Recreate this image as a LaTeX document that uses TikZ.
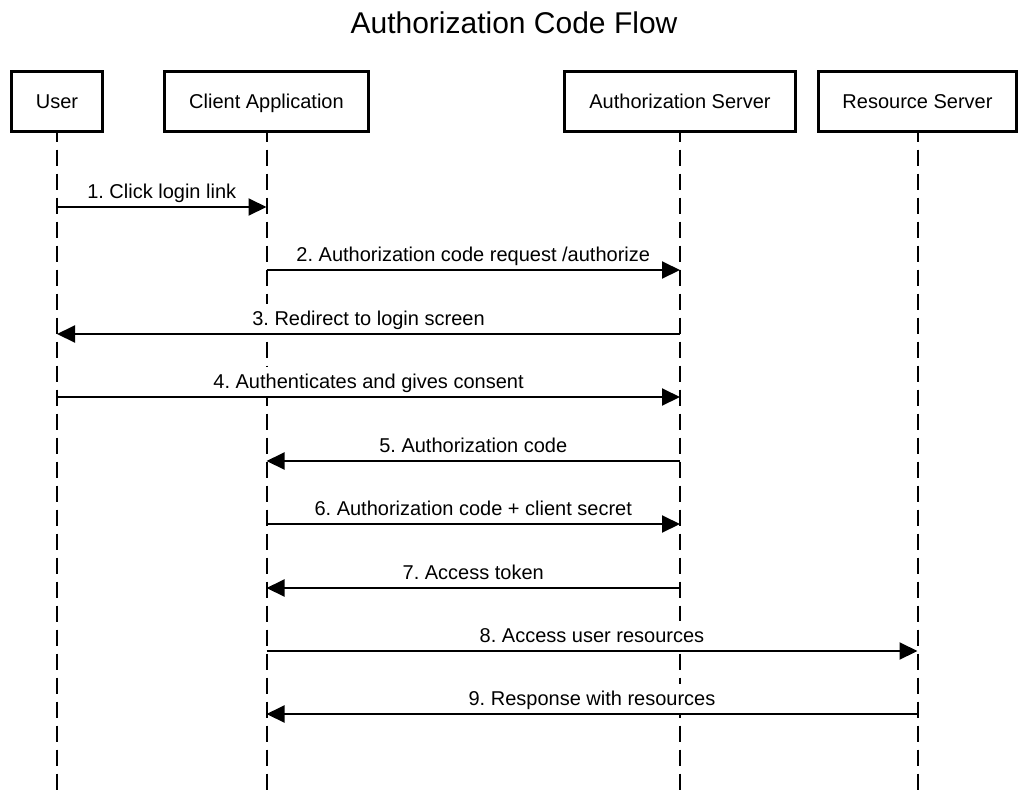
\documentclass[tikz,border=0pt]{standalone}
\usepackage{fontspec}
\setmainfont{Liberation Sans}
\usetikzlibrary{arrows.meta}
\frenchspacing
\begin{document}
\begin{tikzpicture}[x=1pt,y=-1pt,
  actor/.style={draw=black, line width=3pt, fill=white, minimum height=60pt,
    inner sep=0pt, text height=14.3pt, text depth=0pt, font=\fontsize{20}{24}\selectfont},
  lifeline/.style={line width=2pt, dash pattern=on 16pt off 8pt},
  msg/.style={line width=2pt, -{Triangle[length=18pt,width=17pt]}},
  lab/.style={anchor=base, yshift=9pt, inner ysep=0pt, inner xsep=2pt, fill=white,
    text height=21pt, text depth=8pt, font=\fontsize{20}{24}\selectfont},
  titlestyle/.style={anchor=base, inner sep=0pt, font=\fontsize{30}{36}\selectfont}]
\useasboundingbox[fill=white] (0,0) rectangle (1028,793);

\node[titlestyle] (title) at (514,33) {Authorization Code Flow};

% lifeline end points
\coordinate (userEnd) at (57,793);
\coordinate (clientEnd) at (266.5,793);
\coordinate (authEnd) at (680,793);
\coordinate (resEnd) at (917.5,793);

% lifelines (drawn first, boxes cover their tops)
\draw[lifeline] (57,101.5) -- (userEnd);
\draw[lifeline] (266.5,101.5) -- (clientEnd);
\draw[lifeline] (680,101.5) -- (authEnd);
\draw[lifeline] (917.5,101.5) -- (resEnd);

% actors
\node[actor, minimum width=91pt] (user) at (57,101.5) {User};
\node[actor, minimum width=204pt] (client) at (266.5,101.5) {Client Application};
\node[actor, minimum width=231pt] (auth) at (680,101.5) {Authorization Server};
\node[actor, minimum width=198pt] (res) at (917.5,101.5) {Resource Server};

% message anchor points on lifelines
\coordinate (u1) at (57,207);   \coordinate (c1) at (266.5,207);
\coordinate (c2) at (266.5,270); \coordinate (a2) at (680,270);
\coordinate (a3) at (680,334);  \coordinate (u3) at (57,334);
\coordinate (u4) at (57,397);   \coordinate (a4) at (680,397);
\coordinate (a5) at (680,461);  \coordinate (c5) at (266.5,461);
\coordinate (c6) at (266.5,524); \coordinate (a6) at (680,524);
\coordinate (a7) at (680,588);  \coordinate (c7) at (266.5,588);
\coordinate (c8) at (266.5,651); \coordinate (r8) at (917.5,651);
\coordinate (r9) at (917.5,714); \coordinate (c9) at (266.5,714);

\draw[msg] (u1) -- node[lab] {1. Click login link} (c1);
\draw[msg] (c2) -- node[lab] {2. Authorization code request /authorize} (a2);
\draw[msg] (a3) -- node[lab] {3. Redirect to login screen} (u3);
\draw[msg] (u4) -- node[lab] {4. Authenticates and gives consent} (a4);
\draw[msg] (a5) -- node[lab] {5. Authorization code} (c5);
\draw[msg] (c6) -- node[lab] {6. Authorization code + client secret} (a6);
\draw[msg] (a7) -- node[lab] {7. Access token} (c7);
\draw[msg] (c8) -- node[lab] {8. Access user resources} (r8);
\draw[msg] (r9) -- node[lab] {9. Response with resources} (c9);
\end{tikzpicture}
\end{document}
